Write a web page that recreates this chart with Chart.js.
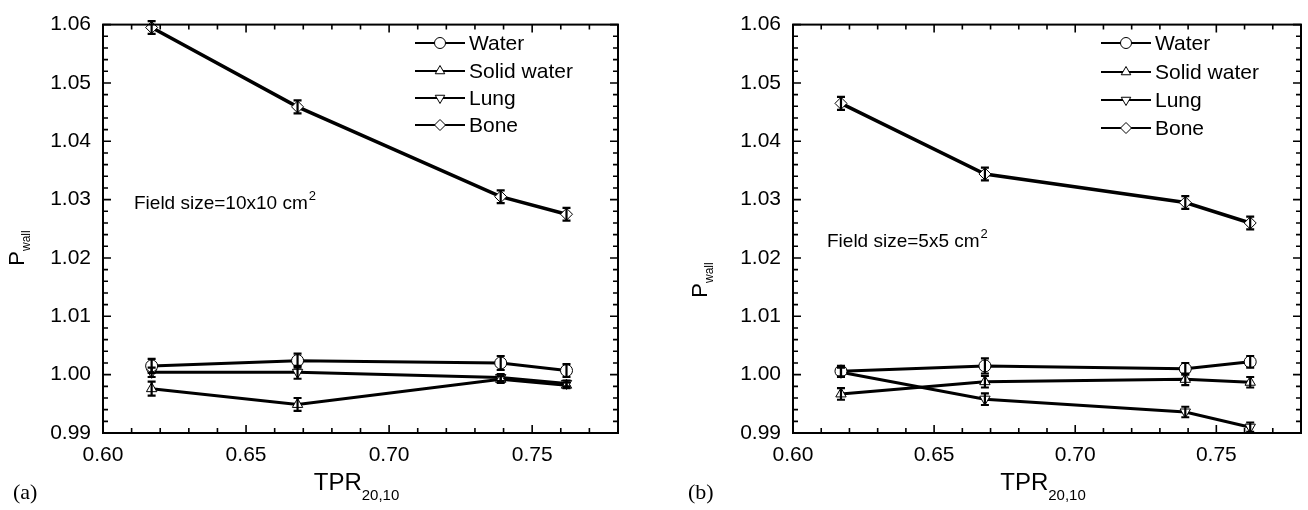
<!DOCTYPE html>
<html><head><meta charset="utf-8">
<script src="https://cdn.jsdelivr.net/npm/chart.js@4/dist/chart.umd.min.js"></script>
<style>
html,body{margin:0;padding:0;background:#fff;width:1308px;height:510px;overflow:hidden;}
#wa{position:absolute;left:0;top:0;width:648px;height:510px;}
#wb{position:absolute;left:660px;top:0;width:648px;height:510px;}
</style></head><body>
<div id="wa"><canvas id="ca"></canvas></div>
<div id="wb"><canvas id="cb"></canvas></div>
<script>
// ---- data ----
const seriesNames = ['Water', 'Solid water', 'Lung', 'Bone'];
const xTickValues = [0.60, 0.65, 0.70, 0.75];
const yTickValues = [0.99, 1.00, 1.01, 1.02, 1.03, 1.04, 1.05, 1.06];
const tprA = [0.617, 0.668, 0.739, 0.762];
const tprB = [0.617, 0.668, 0.739, 0.762];

const waterA = [1.0015, 1.0024, 1.0020, 1.0007];
const solidA = [0.9976, 0.9949, 0.9992, 0.9982];
const lungA  = [1.0004, 1.0004, 0.9995, 0.9985];
const boneA  = [1.0595, 1.0459, 1.0305, 1.0275];
const waterAErr = [0.0012, 0.0012, 0.0012, 0.0011];
const solidAErr = [0.0012, 0.0011, 0.0006, 0.0005];
const lungAErr  = [0.0008, 0.0011, 0.0006, 0.0005];
const boneAErr  = [0.0011, 0.0011, 0.0011, 0.0011];

const waterB = [1.0006, 1.0015, 1.0010, 1.0022];
const solidB = [0.9967, 0.9988, 0.9992, 0.9987];
const lungB  = [1.0004, 0.9958, 0.9936, 0.9910];
const boneB  = [1.0465, 1.0344, 1.0295, 1.0260];
const waterBErr = [0.0009, 0.0013, 0.0010, 0.0010];
const solidBErr = [0.0010, 0.0010, 0.0010, 0.0009];
const lungBErr  = [0.0008, 0.0010, 0.0009, 0.0008];
const boneBErr  = [0.0011, 0.0011, 0.0011, 0.0011];

// ---- styling ----
const FONT = '"Liberation Sans", Arial, sans-serif';
const styles = [
  {pointStyle: 'circle', rotation: 0},
  {pointStyle: 'triangle', rotation: 0},
  {pointStyle: 'triangle', rotation: 180},
  {pointStyle: 'rectRot', rotation: 0}
];

function shape(ctx, kind, x, y, r) {
  ctx.beginPath();
  if (kind === 0) { ctx.arc(x, y, r, 0, Math.PI * 2); }
  else if (kind === 1) { ctx.moveTo(x, y - r); ctx.lineTo(x + r * 0.866, y + r * 0.5); ctx.lineTo(x - r * 0.866, y + r * 0.5); ctx.closePath(); }
  else if (kind === 2) { ctx.moveTo(x, y + r); ctx.lineTo(x + r * 0.866, y - r * 0.5); ctx.lineTo(x - r * 0.866, y - r * 0.5); ctx.closePath(); }
  else { ctx.moveTo(x, y - r); ctx.lineTo(x + r, y); ctx.lineTo(x, y + r); ctx.lineTo(x - r, y); ctx.closePath(); }
  ctx.fillStyle = '#fff'; ctx.fill();
  ctx.strokeStyle = '#000'; ctx.lineWidth = 1; ctx.stroke();
}

function makeChart(canvasId, xs, ys, errs, cfg) {
  const datasets = ys.map((arr, i) => ({
    label: seriesNames[i],
    data: arr.map((v, j) => ({x: xs[j], y: v})),
    errs: errs[i],
    borderColor: '#000',
    borderWidth: i === 3 ? 3.5 : 3,
    pointStyle: styles[i].pointStyle,
    pointRotation: styles[i].rotation,
    pointRadius: 6,
    pointBackgroundColor: '#fff',
    pointBorderColor: '#000',
    pointBorderWidth: 1,
    showLine: true,
    tension: 0,
    clip: false
  }));

  const decor = {
    id: 'decor',
    afterDatasetsDraw(chart) {
      const ctx = chart.ctx, x = chart.scales.x, y = chart.scales.y;
      ctx.save();
      ctx.strokeStyle = '#000'; ctx.lineWidth = 2.2;
      chart.data.datasets.forEach(ds => {
        ds.data.forEach((p, j) => {
          const px = x.getPixelForValue(p.x);
          const y1 = y.getPixelForValue(p.y + ds.errs[j]);
          const y2 = y.getPixelForValue(p.y - ds.errs[j]);
          ctx.beginPath();
          ctx.moveTo(px, y1); ctx.lineTo(px, y2);
          ctx.moveTo(px - 4, y1); ctx.lineTo(px + 4, y1);
          ctx.moveTo(px - 4, y2); ctx.lineTo(px + 4, y2);
          ctx.stroke();
        });
      });
      ctx.restore();
    },
    afterDraw(chart) {
      const ctx = chart.ctx, a = chart.chartArea, x = chart.scales.x, y = chart.scales.y;
      ctx.save();
      ctx.strokeStyle = '#000';
      ctx.lineWidth = 2;
      ctx.strokeRect(a.left, a.top, a.right - a.left, a.bottom - a.top);
      ctx.lineWidth = 1.6;
      // x ticks (inward), minor every 0.01
      for (let k = 0; k <= 18; k++) {
        const v = 0.60 + k * 0.01;
        const px = x.getPixelForValue(v);
        const L = (k % 5 === 0) ? 8 : 5;
        ctx.beginPath();
        ctx.moveTo(px, a.bottom); ctx.lineTo(px, a.bottom - L);
        ctx.moveTo(px, a.top); ctx.lineTo(px, a.top + L);
        ctx.stroke();
      }
      for (let k = 0; k <= 35; k++) {
        const v = 0.99 + k * 0.002;
        const py = y.getPixelForValue(v);
        const L = (k % 5 === 0) ? 8 : 5;
        ctx.beginPath();
        ctx.moveTo(a.left, py); ctx.lineTo(a.left + L, py);
        ctx.moveTo(a.right, py); ctx.lineTo(a.right - L, py);
        ctx.stroke();
      }
      // legend
      const lx = a.right - cfg.legendOffset;
      ctx.font = '21px ' + FONT;
      ctx.textBaseline = 'middle';
      ctx.fillStyle = '#000';
      cfg.legendRows.forEach((ry, i) => {
        ctx.lineWidth = 2;
        ctx.beginPath(); ctx.moveTo(lx, ry); ctx.lineTo(lx + 50, ry); ctx.stroke();
        shape(ctx, i, lx + 25, ry, i === 0 ? 5.5 : 5.5);
        ctx.fillStyle = '#000';
        ctx.fillText(seriesNames[i], lx + 54, ry + 1);
      });
      // annotation
      ctx.font = '19px ' + FONT;
      ctx.textBaseline = 'alphabetic';
      ctx.textAlign = 'left';
      const ax = a.left + cfg.noteDx, ay = cfg.noteY;
      ctx.fillText(cfg.note, ax, ay);
      const w = ctx.measureText(cfg.note).width;
      ctx.font = '13px ' + FONT;
      ctx.fillText('2', ax + w + 1, ay - 9);
      // x title
      ctx.font = '24px ' + FONT;
      const tw = ctx.measureText('TPR').width;
      ctx.font = '15px ' + FONT;
      const sw = ctx.measureText('20,10').width;
      const cx = (a.left + a.right) / 2 - 4 - (tw + sw) / 2;
      ctx.font = '24px ' + FONT;
      ctx.fillText('TPR', cx, 490);
      ctx.font = '15px ' + FONT;
      ctx.fillText('20,10', cx + tw, 500);
      // y title
      ctx.save();
      ctx.translate(cfg.yTitleX, cfg.yTitleY);
      ctx.rotate(-Math.PI / 2);
      ctx.font = '22px ' + FONT;
      const pw = ctx.measureText('P').width;
      ctx.font = '12px ' + FONT;
      const ww = ctx.measureText('wall').width;
      const sx = -(pw + ww) / 2;
      ctx.font = '22px ' + FONT;
      ctx.fillText('P', sx, 0);
      ctx.font = '12px ' + FONT;
      ctx.fillText('wall', sx + pw, 6);
      ctx.restore();
      // panel label
      ctx.font = '22px "Liberation Serif", "Times New Roman", serif';
      ctx.fillText(cfg.panel, cfg.panelX, 499);
      ctx.restore();
    }
  };

  return new Chart(document.getElementById(canvasId), {
    type: 'scatter',
    data: {datasets},
    options: {
      responsive: true,
      maintainAspectRatio: false,
      animation: false,
      layout: {padding: {left: 0, top: 13, right: cfg.padRight, bottom: 0}},
      plugins: {legend: {display: false}, tooltip: {enabled: false}},
      scales: {
        x: {
          type: 'linear', min: 0.60, max: 0.78,
          grid: {display: false, drawTicks: false},
          border: {display: false},
          afterBuildTicks: s => { s.ticks = xTickValues.map(v => ({value: v})); },
          afterFit: s => { s.height = 77; },
          ticks: {color: '#000', font: {family: FONT, size: 21}, padding: 10, maxRotation: 0,
                  callback: v => Number(v).toFixed(2)}
        },
        y: {
          type: 'linear', min: 0.99, max: 1.06,
          grid: {display: false, drawTicks: false},
          border: {display: false},
          afterBuildTicks: s => { s.ticks = yTickValues.map(v => ({value: v})); },
          afterFit: s => { s.width = cfg.yWidth; },
          ticks: {color: '#000', font: {family: FONT, size: 21}, padding: 12,
                  callback: v => Number(v).toFixed(2)}
        }
      }
    },
    plugins: [decor]
  });
}

makeChart('ca', tprA, [waterA, solidA, lungA, boneA], [waterAErr, solidAErr, lungAErr, boneAErr], {
  yWidth: 103, padRight: 30, legendOffset: 203, legendRows: [43, 71, 98, 125],
  note: 'Field size=10x10 cm', noteDx: 31, noteY: 209,
  yTitleX: 24, yTitleY: 248, panel: '(a)', panelX: 13
});
makeChart('cb', tprB, [waterB, solidB, lungB, boneB], [waterBErr, solidBErr, lungBErr, boneBErr], {
  yWidth: 133, padRight: 4, legendOffset: 200, legendRows: [43, 72, 100, 128],
  note: 'Field size=5x5 cm', noteDx: 34, noteY: 247,
  yTitleX: 47, yTitleY: 280, panel: '(b)', panelX: 28
});
</script>
</body></html>
